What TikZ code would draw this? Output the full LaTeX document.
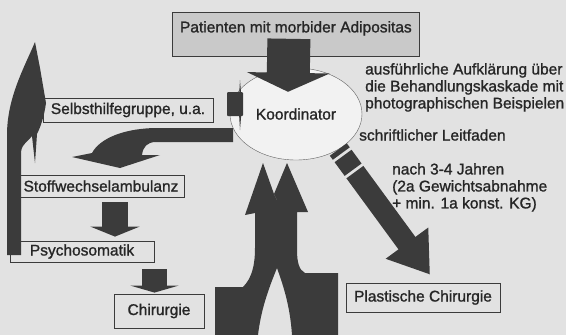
\documentclass[tikz,border=0pt]{standalone}
\usepackage{fontspec}
\setmainfont{Liberation Sans}[BoldFont=Liberation Sans, BoldFeatures={FakeBold=1.2}]
\usetikzlibrary{arrows.meta,shapes.geometric}
\definecolor{paper}{HTML}{E2E2E2}
\definecolor{ink}{HTML}{3B3B3B}
\definecolor{patfill}{HTML}{C9C9C9}
\definecolor{koordfill}{HTML}{F2F2F2}

\begin{document}
\begin{tikzpicture}[
    x=1pt, y=-1pt,
    every node/.style={font=\fontsize{15.5pt}{17pt}\selectfont\bfseries, text=black!85},
    box/.style={draw=ink, line width=0.8pt, fill=paper, inner sep=0pt},
    blockarrow/.style={draw=ink, line cap=butt},
    textblock/.style={anchor=north west, align=left, inner sep=0pt},
]

\fill[paper] (0,0) rectangle (566,335);
\useasboundingbox (0,0) rectangle (566,335);

\node[box, fill=patfill, anchor=north west, minimum width=247pt,
      text height=11pt, text depth=15pt, inner ysep=9pt] (pat) at (172,12)
    {Patienten mit morbider Adipositas};
\node[box, minimum width=170pt, minimum height=24pt] (selbst) at (128,110) {Selbsthilfegruppe, u.a.};
\node[box, minimum width=166pt, minimum height=22pt] (stoff) at (101,186) {Stoffwechselambulanz};
\node[box, minimum width=144pt, minimum height=21pt] (psycho) at (82,251.5) {Psychosomatik};
\node[box, minimum width=90pt, minimum height=34pt] (chir) at (159,311) {Chirurgie};
\node[box, minimum width=154pt, minimum height=29pt] (plast) at (423,297.5) {Plastische Chirurgie};
\node[ellipse, draw=ink!80, fill=koordfill, minimum width=132pt, minimum height=92pt,
      inner sep=0pt] (koord) at (296,114) {Koordinator};

\node[textblock] (info) at (365,63)
    {ausführliche Aufklärung über\\die Behandlungskaskade mit\\photographischen Beispielen};
\node[anchor=west, inner sep=0pt] (leitfaden) at (359,135) {schriftlicher Leitfaden};
\node[textblock] (zeit) at (392,163)
    {nach 3-4 Jahren\\(2a Gewichtsabnahme\\+ min. 1a konst. KG)};

\draw[blockarrow, line width=43pt, -{Triangle[width=82pt,length=19pt]}]
    ([xshift=-7pt,yshift=18pt]pat.south) -- ([xshift=-8pt,yshift=-24pt]koord.north);
\draw[blockarrow, line width=26pt, -{Triangle[width=49pt,length=10pt]}]
    ([xshift=14pt,yshift=-5pt]stoff.south) -- ([xshift=33pt,yshift=4pt]psycho.north);
\draw[blockarrow, line width=25pt, -{Triangle[width=48pt,length=7pt]}]
    ([xshift=72.5pt,yshift=-7pt]psycho.south) -- ([xshift=-4.5pt,yshift=1pt]chir.north);
\draw[blockarrow, line width=21pt, dash pattern=on 5pt off 3pt on 17pt off 3pt on 400pt,
      -{Triangle[width=50pt,length=39pt]}]
    (koord.-40) -- ([xshift=7pt,yshift=8pt]plast.north);

\fill[ink, rounded corners=1pt] (227,92) rectangle (243,116);
\fill[ink] (240,80) -- (242,105) -- (240,130) -- (238.5,105) -- cycle;

\fill[ink] (233,128) -- (158,128) .. controls (125,128) and (100,138) .. (92,153)
    -- (72,157) -- (120,168) -- (160,155) -- (142,155)
    .. controls (143,147) and (147,142) .. (156,142) -- (233,142) -- cycle;

\fill[ink] (7,255) -- (7,135) .. controls (7,98) and (24,68) .. (35,42) -- (40,68) -- (46,103)
    .. controls (44,118) and (40,128) .. (37,134) -- (35,163) -- (32,136)
    .. controls (29,141) and (22,143) .. (21,152) -- (21,255) -- cycle;

\fill[ink] (263,163) -- (274,194) -- (277,200) -- (277,268)
    .. controls (268,290) and (261,310) .. (258,335) -- (215,335) -- (215,287) -- (243,287)
    .. controls (252,278) and (255,265) .. (255,248) -- (255,213) -- (245,215) -- cycle;
\fill[ink] (287,163) -- (308,212) -- (297,212) -- (297,250)
    .. controls (297,262) and (299,270) .. (305,273) -- (338,273) -- (338,335) -- (292,335)
    .. controls (290,305) and (283,285) .. (277,268) -- (277,200) -- (274,194) -- cycle;
\end{tikzpicture}
\end{document}
